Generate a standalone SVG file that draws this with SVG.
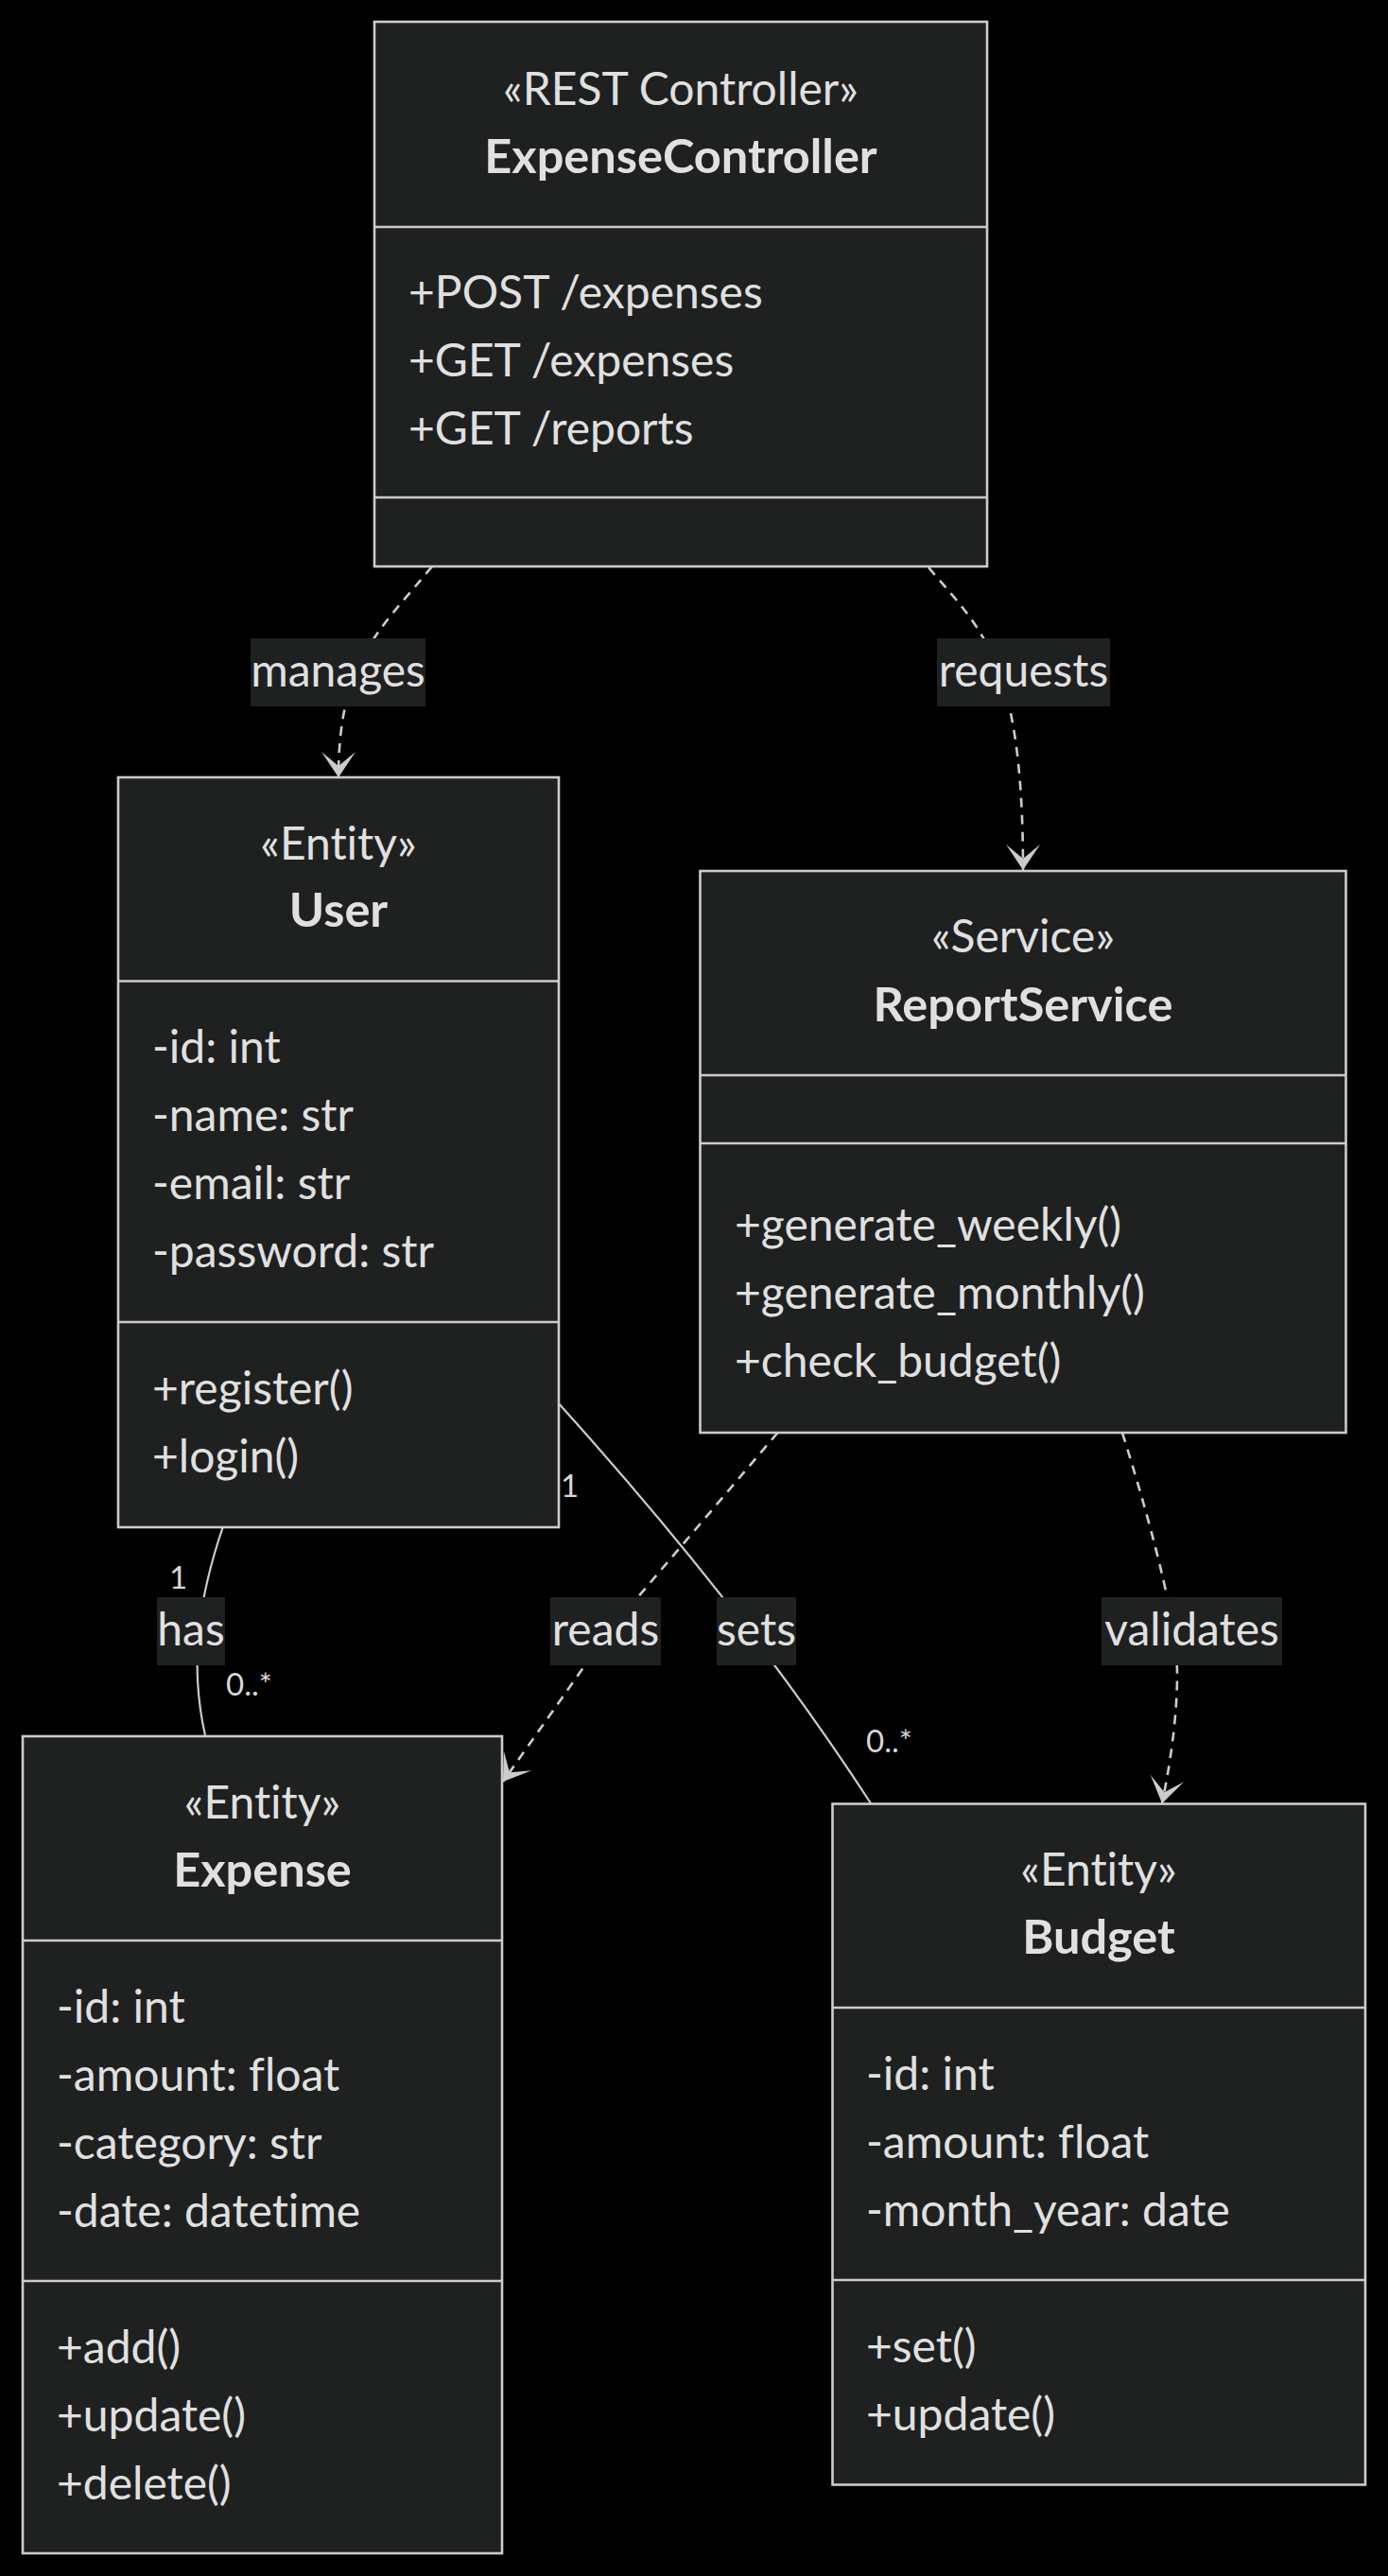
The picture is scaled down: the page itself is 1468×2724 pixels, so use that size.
<svg xmlns="http://www.w3.org/2000/svg" width="1468" height="2724" viewBox="0 0 1468 2724">
<style>
.bg{fill:#000}
.box{fill:#1f2020;stroke:#cccccc;stroke-width:2.6}
.div{stroke:#cccccc;stroke-width:2.6}
text{font-family:Lato,"Open Sans","Liberation Sans",sans-serif;fill:#e0e0e0;font-variant-ligatures:none;font-feature-settings:"liga" 0,"clig" 0}
.t{font-size:48px}
.c{text-anchor:middle}
.b{font-weight:bold;font-size:50.5px}
.card{font-size:33px;fill:#d8d8d8}
.rel{fill:none;stroke:#cccccc;stroke-width:2.2}
.dep{fill:none;stroke:#cccccc;stroke-width:2.6;stroke-dasharray:10 8}
.lbg{fill:#1f2020}
</style>
<defs>
<marker id="depEnd" markerUnits="userSpaceOnUse" viewBox="0 0 20 14" markerWidth="60" markerHeight="42" refX="18" refY="7" orient="auto">
<path d="M18,7 L9,13 L14,7 L9,1 Z" fill="#cccccc"/>
</marker>
</defs>
<rect class="bg" x="0" y="0" width="1468" height="2724"/>

<g id="connectors">
<path id="e-manages" class="dep" d="M457,599 C400,668 358,700 358,822" marker-end="url(#depEnd)"/>
<path id="e-requests" class="dep" d="M982,600 C1040,668 1082,700 1082,920" marker-end="url(#depEnd)"/>
<path id="e-has" class="rel" d="M236,1614 C210,1690 200,1760 217,1835"/>
<path id="e-sets" class="rel" d="M591.7,1485 Q790,1705 921,1907"/>
<path id="e-reads" class="dep" d="M822.5,1515 L644,1725 L532,1884" marker-end="url(#depEnd)"/>
<path id="e-validates" class="dep" d="M1187,1515 Q1245,1700 1245,1770 Q1245,1830 1229,1907" marker-end="url(#depEnd)"/>
</g>

<g id="edge-labels">
<rect class="lbg" x="265" y="675" width="185" height="72"/>
<text class="t c" x="357.5" y="726">manages</text>
<rect class="lbg" x="991" y="675" width="183" height="72"/>
<text class="t c" x="1082.5" y="726">requests</text>
<rect class="lbg" x="166" y="1689" width="72" height="72"/>
<text class="t c" x="202" y="1740">has</text>
<rect class="lbg" x="582" y="1689" width="117" height="72"/>
<text class="t c" x="640.5" y="1740">reads</text>
<rect class="lbg" x="758" y="1689" width="84" height="72"/>
<text class="t c" x="800" y="1740">sets</text>
<rect class="lbg" x="1165" y="1689" width="191" height="72"/>
<text class="t c" x="1260.5" y="1740">validates</text>
<text class="card" x="179" y="1680">1</text>
<text class="card" x="239" y="1793">0..*</text>
<text class="card" x="593" y="1583">1</text>
<text class="card" x="916" y="1853">0..*</text>
</g>

<g id="ExpenseController">
<rect class="box" x="396" y="23" width="648" height="576"/>
<line class="div" x1="396" y1="240" x2="1044" y2="240"/>
<line class="div" x1="396" y1="526" x2="1044" y2="526"/>
<text class="t c" x="720" y="111">«REST Controller»</text>
<text class="t c b" x="720" y="183">ExpenseController</text>
<text class="t" x="432" y="326">+POST /expenses</text>
<text class="t" x="432" y="398">+GET /expenses</text>
<text class="t" x="432" y="470">+GET /reports</text>
</g>

<g id="User">
<rect class="box" x="125" y="822" width="466" height="793"/>
<line class="div" x1="125" y1="1037.5" x2="591" y2="1037.5"/>
<line class="div" x1="125" y1="1398" x2="591" y2="1398"/>
<text class="t c" x="358" y="909">«Entity»</text>
<text class="t c b" x="358" y="980">User</text>
<text class="t" x="161" y="1124">-id: int</text>
<text class="t" x="161" y="1196">-name: str</text>
<text class="t" x="161" y="1268">-email: str</text>
<text class="t" x="161" y="1340">-password: str</text>
<text class="t" x="161" y="1485">+register()</text>
<text class="t" x="161" y="1557">+login()</text>
</g>

<g id="ReportService">
<rect class="box" x="740.5" y="921" width="683" height="594"/>
<line class="div" x1="740.5" y1="1137" x2="1423.5" y2="1137"/>
<line class="div" x1="740.5" y1="1209" x2="1423.5" y2="1209"/>
<text class="t c" x="1082" y="1007">«Service»</text>
<text class="t c b" x="1082" y="1080">ReportService</text>
<text class="t" x="777" y="1312">+generate_weekly()</text>
<text class="t" x="777" y="1384">+generate_monthly()</text>
<text class="t" x="777" y="1456">+check_budget()</text>
</g>

<g id="Expense">
<rect class="box" x="24" y="1836" width="507" height="864"/>
<line class="div" x1="24" y1="2052" x2="531" y2="2052"/>
<line class="div" x1="24" y1="2412" x2="531" y2="2412"/>
<text class="t c" x="277.5" y="1923">«Entity»</text>
<text class="t c b" x="277.5" y="1995">Expense</text>
<text class="t" x="60" y="2139">-id: int</text>
<text class="t" x="60" y="2211">-amount: float</text>
<text class="t" x="60" y="2283">-category: str</text>
<text class="t" x="60" y="2355">-date: datetime</text>
<text class="t" x="60" y="2499">+add()</text>
<text class="t" x="60" y="2571">+update()</text>
<text class="t" x="60" y="2643">+delete()</text>
</g>

<g id="Budget">
<rect class="box" x="880.5" y="1907.5" width="563.5" height="720"/>
<line class="div" x1="880.5" y1="2123" x2="1444" y2="2123"/>
<line class="div" x1="880.5" y1="2411" x2="1444" y2="2411"/>
<text class="t c" x="1162" y="1994">«Entity»</text>
<text class="t c b" x="1162" y="2066">Budget</text>
<text class="t" x="916" y="2210">-id: int</text>
<text class="t" x="916" y="2282">-amount: float</text>
<text class="t" x="916" y="2354">-month_year: date</text>
<text class="t" x="916" y="2498">+set()</text>
<text class="t" x="916" y="2570">+update()</text>
</g>
</svg>
